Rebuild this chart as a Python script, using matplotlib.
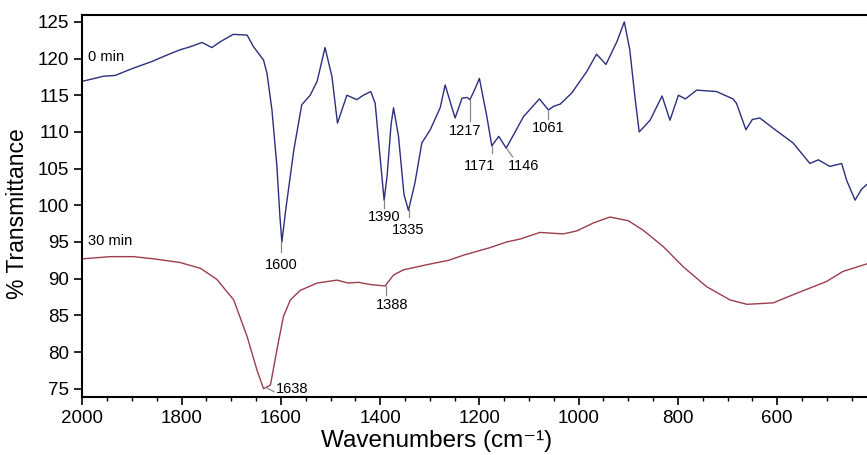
import matplotlib.pyplot as plt
import numpy as np

plt.rcParams['font.family'] = ['Liberation Sans', 'DejaVu Sans']

# === 0 min spectrum ===
wn_0 = [2000, 1957, 1934, 1897, 1860, 1829, 1803, 1783, 1759, 1739, 1722, 1696, 1668,
        1655, 1635, 1628, 1618, 1608, 1602, 1598, 1590, 1574, 1558, 1541, 1527,
        1511, 1497, 1486, 1467, 1447, 1434, 1419, 1410, 1400, 1392, 1386, 1378,
        1373, 1363, 1352, 1343, 1330, 1316, 1299, 1279, 1269, 1249, 1235, 1225,
        1219, 1208, 1200, 1185, 1175, 1161, 1146, 1128, 1111, 1079, 1061, 1050,
        1037, 1014, 984, 964, 945, 923, 908, 897, 886, 878, 856, 832, 816, 799,
        785, 762, 722, 689, 682, 663, 650, 635, 608, 568, 534, 517, 494, 470,
        460, 443, 430, 420]
tr_0 = [116.9, 117.6, 117.7, 118.7, 119.6, 120.5, 121.2, 121.6, 122.2, 121.5, 122.3,
        123.3, 123.2, 121.6, 119.8, 118.0, 113.0, 105.3, 98.5, 95.0, 99.5, 107.5,
        113.7, 115.0, 116.9, 121.5, 117.5, 111.2, 115.0, 114.4, 115.0, 115.5,
        113.9, 106.5, 100.7, 104.0, 111.0, 113.3, 109.4, 101.5, 99.3, 103.0,
        108.5, 110.3, 113.3, 116.4, 111.9, 114.6, 114.7, 114.4, 116.0, 117.3,
        112.1, 108.1, 109.4, 107.8, 110.0, 112.1, 114.5, 113.0, 113.5, 113.8,
        115.3, 118.2, 120.6, 119.2, 122.3, 125.0, 121.2, 114.4, 110.0, 111.6,
        114.9, 111.6, 115.0, 114.5, 115.7, 115.5, 114.5, 113.9, 110.3, 111.7,
        111.9, 110.5, 108.5, 105.7, 106.2, 105.3, 105.7, 103.4, 100.7, 102.2, 102.8]

# === 30 min spectrum ===
wn_30 = [2000, 1944, 1897, 1856, 1803, 1762, 1729, 1695, 1668, 1648, 1635, 1621,
         1608, 1595, 1581, 1561, 1527, 1487, 1464, 1444, 1420, 1390, 1373, 1353,
         1306, 1262, 1232, 1180, 1145, 1118, 1078, 1031, 1004, 970, 937, 900, 870,
         830, 789, 742, 695, 661, 608, 561, 501, 467, 420]
tr_30 = [92.7, 93.0, 93.0, 92.7, 92.2, 91.4, 89.9, 87.1, 82.1, 77.5, 75.0, 75.5,
         80.3, 84.8, 87.1, 88.4, 89.4, 89.8, 89.4, 89.5, 89.2, 89.0, 90.5, 91.2,
         91.9, 92.5, 93.2, 94.2, 95.0, 95.4, 96.3, 96.1, 96.5, 97.6, 98.4, 97.9,
         96.6, 94.4, 91.6, 88.9, 87.1, 86.5, 86.7, 88.0, 89.6, 91.0, 92.0]

# peak labels: text, text x, text y, line x0, y0, x1, y1
peak_txt = ['1600', '1390', '1335', '1217', '1171', '1146', '1061', '1388', '1638']
peak_tx = [1600, 1392, 1343, 1228, 1200, 1111, 1061, 1376, 1575]
peak_ty = [91.8, 98.4, 96.6, 110.1, 105.4, 105.4, 110.5, 86.4, 75.0]
line_x0 = [1600, 1392, 1341, 1219, 1175, 1145, 1061, 1388, 1631]
line_y0 = [95.0, 100.7, 99.3, 114.3, 108.1, 107.7, 113.0, 89.0, 75.2]
line_x1 = [1600, 1392, 1341, 1219, 1175, 1133, 1061, 1388, 1614]
line_y1 = [93.6, 99.6, 98.4, 111.5, 107.1, 106.6, 111.8, 87.8, 74.6]

fig = plt.figure(figsize=(8.67, 4.55), dpi=100)
ax = fig.add_axes([0.095, 0.128, 0.905, 0.84])

ax.plot(wn_0, tr_0, color='#2b2f7c', lw=1.0)
ax.plot(wn_30, tr_30, color='#9b3d4c', lw=1.0)

for i in range(len(peak_txt)):
    ax.plot([line_x0[i], line_x1[i]], [line_y0[i], line_y1[i]], color='#888888', lw=0.9)
    ha = 'left' if peak_txt[i] == '1638' else 'center'
    ax.text(peak_tx[i] if ha == 'center' else 1610, peak_ty[i], peak_txt[i],
            ha=ha, va='center', fontsize=10.5)

ax.text(1988, 120.2, '0 min', fontsize=10.5, va='center')
ax.text(1988, 95.2, '30 min', fontsize=10.5, va='center')

ax.set_xlim(2000, 419)
ax.set_ylim(73.9, 126)
ax.set_xticks([2000, 1800, 1600, 1400, 1200, 1000, 800, 600])
ax.set_xticks(np.arange(450, 2000, 50), minor=True)
ax.set_yticks(np.arange(75, 126, 5))
ax.tick_params(axis='both', labelsize=13.5, direction='out', length=6, width=1.2)
ax.tick_params(axis='x', which='minor', length=3, width=1)
ax.spines['right'].set_visible(False)
for s in ['top', 'left', 'bottom']:
    ax.spines[s].set_linewidth(1.5)

ax.set_xlabel('Wavenumbers (cm⁻¹)', fontsize=17.5)
ax.set_ylabel('% Transmittance', fontsize=16.5)
ax.xaxis.set_label_coords(0.452, -0.088)
ax.yaxis.set_label_coords(-0.068, 0.48)

fig.savefig('out.png', dpi=100)
